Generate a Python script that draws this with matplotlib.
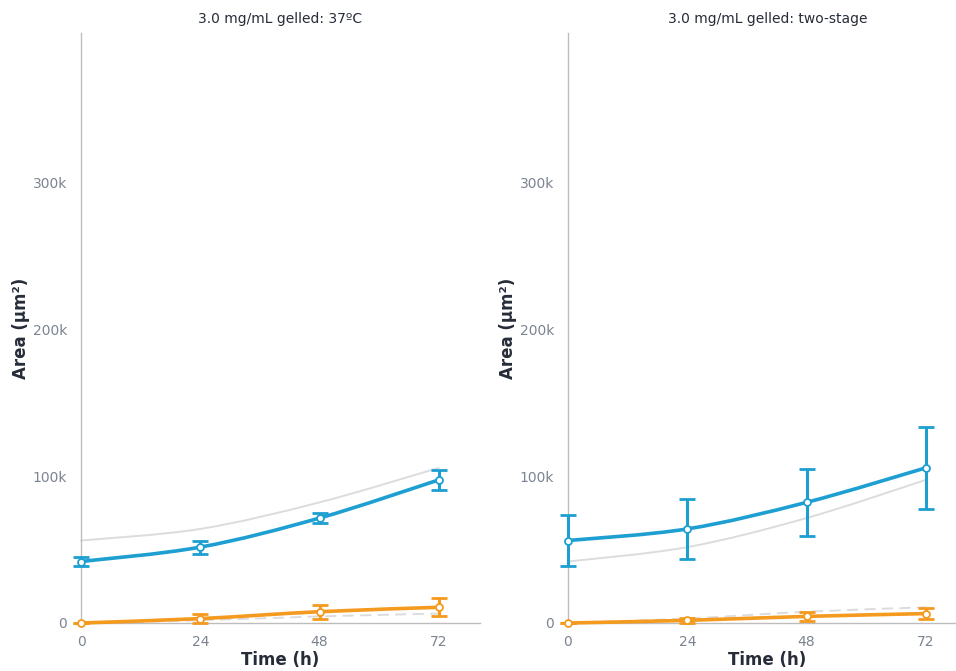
import numpy as np
import matplotlib
matplotlib.use('Agg')
import matplotlib.pyplot as plt
from matplotlib.path import Path
from matplotlib.patches import PathPatch

# time points (h)
hours = [0, 24, 48, 72]

# 3.0 mg/mL gelled: 37ºC
blue_37 = [41900, 51700, 71500, 97500]
blue_37_err = [3300, 4500, 3700, 6600]
orange_37 = [0, 3000, 7700, 10700]
orange_37_err = [0, 3300, 4900, 6200]

# 3.0 mg/mL gelled: two-stage
blue_two = [56200, 64100, 82200, 105700]
blue_two_err = [17600, 20500, 23000, 28000]
orange_two = [0, 1800, 4500, 6400]
orange_two_err = [0, 1500, 3000, 3800]

titles = ['3.0 mg/mL gelled: 37ºC', '3.0 mg/mL gelled: two-stage']
yticks = [0, 100000, 200000, 300000]
yticklabels = ['0', '100k', '200k', '300k']

BLUE = '#1d9fd2'
ORANGE = '#f49a1e'
GREY = '#dcdcdc'
TICK = '#7c8491'
DARK = '#262c38'


def smooth(ax, x, y, **kw):
    # cubic bezier through the points (catmull-rom style), drawn in data coords
    P = np.column_stack([x, y]).astype(float)
    verts = [P[0]]
    codes = [Path.MOVETO]
    n = len(P)
    for i in range(n - 1):
        p0 = P[max(i - 1, 0)]
        p1 = P[i]
        p2 = P[i + 1]
        p3 = P[min(i + 2, n - 1)]
        c1 = p1 + (p2 - p0) / 6.0
        c2 = p2 - (p3 - p1) / 6.0
        verts += [c1, c2, p2]
        codes += [Path.CURVE4] * 3
    patch = PathPatch(Path(verts, codes), fill=False, capstyle='round', **kw)
    patch.set_clip_on(False)
    ax.add_patch(patch)


fig = plt.figure(figsize=(9.56, 6.71), dpi=100)
W, H = 956.0, 671.0
ax1 = fig.add_axes([81 / W, 48 / H, 399 / W, 590 / H])
ax2 = fig.add_axes([568 / W, 48 / H, 399 / W, 590 / H])

panels = [
    (ax1, blue_37, blue_37_err, orange_37, orange_37_err, blue_two, orange_two),
    (ax2, blue_two, blue_two_err, orange_two, orange_two_err, blue_37, orange_37),
]

for i, (ax, b, be, o, oe, gb, go) in enumerate(panels):
    # comparison curves from the other panel
    smooth(ax, hours, gb, edgecolor=GREY, lw=1.4, zorder=1)
    smooth(ax, hours, go, edgecolor=GREY, lw=1.4, linestyle=(0, (5, 4)), zorder=1)

    smooth(ax, hours, o, edgecolor=ORANGE, lw=2.6, zorder=3)
    ax.errorbar(hours, o, yerr=oe, fmt='none', ecolor=ORANGE, elinewidth=2.2,
                capsize=6, capthick=2, zorder=4, clip_on=False)
    ax.plot(hours, o, 'o', mfc='white', mec=ORANGE, ms=5, mew=1.3, zorder=5, clip_on=False)

    smooth(ax, hours, b, edgecolor=BLUE, lw=2.6, zorder=3)
    ax.errorbar(hours, b, yerr=be, fmt='none', ecolor=BLUE, elinewidth=2.2,
                capsize=6, capthick=2, zorder=4, clip_on=False)
    ax.plot(hours, b, 'o', mfc='white', mec=BLUE, ms=5, mew=1.3, zorder=5, clip_on=False)

    ax.set_xlim(0, 80.3)
    ax.set_ylim(0, 402000)
    ax.set_xticks(hours)
    ax.set_yticks(yticks)
    ax.set_yticklabels(yticklabels)
    ax.tick_params(length=0, labelsize=10, colors=TICK)
    ax.tick_params(axis='y', pad=10)
    ax.tick_params(axis='x', pad=9)
    for s in ['top', 'right']:
        ax.spines[s].set_visible(False)
    for s in ['left', 'bottom']:
        ax.spines[s].set_color('#bdbdbd')
        ax.spines[s].set_linewidth(1.0)
    ax.set_facecolor('white')
    ax.set_title(titles[i], fontsize=10, color=DARK, pad=7)
    ax.set_xlabel('Time (h)', fontsize=12, fontweight='bold', color=DARK, labelpad=1)
    ax.set_ylabel('Area (µm²)', fontsize=12, fontweight='bold', color=DARK, labelpad=2)

fig.savefig('out.png', dpi=100, facecolor='white')
